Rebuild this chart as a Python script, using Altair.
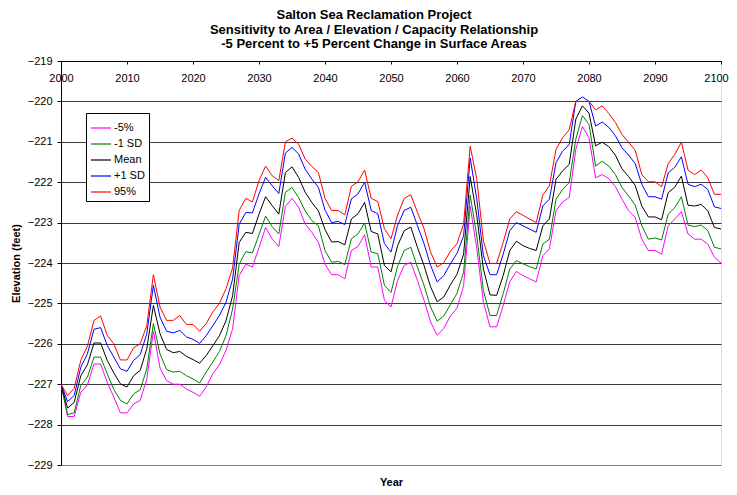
import altair as alt
import pandas as pd

years = list(range(2000, 2101))

minus5 = [-227.0, -227.8, -227.8, -227.2, -227.02, -226.5, -226.5, -226.95, -227.32, -227.71,
          -227.71, -227.49, -227.4, -226.87, -225.69, -226.6, -226.91, -227.0, -227.0, -227.12,
          -227.2, -227.3, -227.07, -226.74, -226.52, -226.16, -225.63, -224.31, -224.03, -224.1,
          -223.62, -223.12, -223.41, -223.59, -222.6, -222.4, -222.62, -223.04, -223.24, -223.49,
          -224.03, -224.29, -224.29, -224.39, -223.69, -223.59, -223.3, -224.1, -224.1, -224.92,
          -225.09, -224.43, -224.06, -223.98, -224.43, -224.92, -225.46, -225.79, -225.62, -225.31,
          -225.12, -224.56, -222.59, -223.65, -224.97, -225.58, -225.58, -225.05, -224.46, -224.21,
          -224.31, -224.39, -224.47, -223.82, -223.65, -222.71, -222.49, -222.38, -221.19, -220.62,
          -220.9, -221.89, -221.81, -221.91, -222.11, -222.42, -222.71, -222.87, -223.41, -223.69,
          -223.69, -223.78, -223.08, -222.91, -222.73, -223.28, -223.41, -223.41, -223.53, -223.86,
          -224.0]

minus1sd = [-227.0, -227.75, -227.71, -227.03, -226.83, -226.33, -226.33, -226.74, -227.13, -227.4,
            -227.49, -227.24, -227.14, -226.62, -225.5, -226.25, -226.64, -226.7, -226.68, -226.79,
            -226.87, -226.97, -226.7, -226.45, -226.19, -225.8, -225.14, -224.03, -223.72, -223.75,
            -223.3, -222.84, -223.1, -223.28, -222.25, -222.13, -222.38, -222.71, -222.95, -223.08,
            -223.69, -223.98, -223.96, -224.04, -223.4, -223.28, -223.01, -223.73, -223.77, -224.55,
            -224.73, -224.08, -223.69, -223.61, -224.1, -224.55, -225.09, -225.44, -225.31, -225.03,
            -224.75, -224.23, -222.32, -223.33, -224.68, -225.3, -225.3, -224.76, -224.15, -223.94,
            -224.02, -224.09, -224.15, -223.53, -223.41, -222.42, -222.18, -222.01, -220.94, -220.35,
            -220.57, -221.6, -221.48, -221.6, -221.81, -222.13, -222.34, -222.57, -223.08, -223.41,
            -223.38, -223.43, -222.79, -222.63, -222.36, -223.06, -223.1, -223.06, -223.2, -223.61,
            -223.65]

mean = [-227.0, -227.59, -227.45, -226.79, -226.52, -225.98, -225.98, -226.41, -226.72, -226.99,
        -227.07, -226.79, -226.66, -226.12, -225.05, -225.75, -226.14, -226.22, -226.19, -226.31,
        -226.39, -226.48, -226.29, -226.05, -225.8, -225.43, -224.81, -223.49, -223.24, -223.27,
        -222.79, -222.36, -222.58, -222.79, -221.76, -221.62, -221.88, -222.25, -222.5, -222.71,
        -223.17, -223.48, -223.47, -223.55, -222.91, -222.78, -222.5, -223.22, -223.28, -224.06,
        -224.22, -223.57, -223.2, -223.11, -223.61, -224.06, -224.59, -224.96, -224.84, -224.54,
        -224.28, -223.78, -221.86, -222.83, -224.15, -224.79, -224.8, -224.31, -223.69, -223.46,
        -223.57, -223.64, -223.69, -223.08, -222.91, -221.93, -221.72, -221.56, -220.44, -220.11,
        -220.29, -221.1, -221.01, -221.12, -221.33, -221.67, -221.86, -222.08, -222.59, -222.86,
        -222.86, -222.93, -222.26, -222.12, -221.85, -222.57, -222.59, -222.55, -222.71, -223.12,
        -223.16]

plus1sd = [-227.0, -227.43, -227.28, -226.58, -226.25, -225.64, -225.6, -226.04, -226.33, -226.62,
           -226.68, -226.41, -226.27, -225.75, -224.55, -225.34, -225.69, -225.73, -225.67, -225.83,
           -225.89, -225.99, -225.8, -225.55, -225.3, -224.97, -224.4, -223.04, -222.75, -222.76,
           -222.29, -221.88, -222.09, -222.28, -221.28, -221.14, -221.3, -221.68, -221.92, -222.13,
           -222.69, -223.0, -222.97, -223.05, -222.41, -222.29, -222.0, -222.7, -222.78, -223.52,
           -223.73, -223.07, -222.7, -222.62, -223.07, -223.52, -224.06, -224.47, -224.31, -224.02,
           -223.76, -223.33, -221.4, -222.42, -223.82, -224.29, -224.29, -223.78, -223.2, -223.0,
           -223.08, -223.16, -223.24, -222.59, -222.42, -221.52, -221.23, -221.07, -220.0, -219.89,
           -220.0, -220.61, -220.51, -220.64, -220.85, -221.15, -221.33, -221.54, -222.05, -222.36,
           -222.36, -222.42, -221.77, -221.63, -221.37, -222.05, -222.11, -222.05, -222.18, -222.61,
           -222.65]

p95 = [-227.0, -227.28, -227.1, -226.41, -226.06, -225.42, -225.31, -225.79, -226.0, -226.4,
       -226.4, -226.1, -226.0, -225.55, -224.29, -225.09, -225.42, -225.42, -225.3, -225.52,
       -225.52, -225.69, -225.5, -225.21, -225.0, -224.64, -224.12, -222.7, -222.4, -222.49,
       -221.96, -221.6, -221.84, -221.96, -221.0, -220.91, -221.06, -221.43, -221.61, -221.76,
       -222.4, -222.7, -222.7, -222.81, -222.1, -221.99, -221.7, -222.4, -222.48, -223.15,
       -223.4, -222.81, -222.4, -222.31, -222.74, -223.15, -223.73, -224.1, -223.99, -223.71,
       -223.52, -223.04, -221.11, -221.93, -223.45, -224.01, -224.01, -223.49, -222.91, -222.73,
       -222.82, -222.91, -223.0, -222.32, -222.09, -221.19, -220.9, -220.7, -220.0, -220.0,
       -220.0, -220.21, -220.11, -220.3, -220.52, -220.82, -221.01, -221.21, -221.81, -221.99,
       -221.99, -222.11, -221.54, -221.31, -221.01, -221.7, -221.81, -221.7, -221.89, -222.3,
       -222.3]

series_names = ["-5%", "-1 SD", "Mean", "+1 SD", "95%"]
series_colors = ["#FF00FF", "#008000", "#000000", "#0000FF", "#FF0000"]
x_ticks = list(range(2000, 2101, 10))
y_ticks = list(range(-229, -218))
title_lines = ["Salton Sea Reclamation Project",
               "Sensitivity to Area / Elevation / Capacity Relationship",
               "-5 Percent to +5 Percent Change in Surface Areas"]

frames = []
for name, vals in zip(series_names, [minus5, minus1sd, mean, plus1sd, p95]):
    frames.append(pd.DataFrame({"year": years, "value": vals, "series": name}))
df = pd.concat(frames, ignore_index=True)

FONT = "Liberation Sans"
W, H = 660, 404

chart = alt.Chart(df).mark_line(strokeWidth=1, clip=True).encode(
    x=alt.X("year:Q",
            scale=alt.Scale(domain=[2000, 2100], nice=False, zero=False),
            axis=alt.Axis(orient="bottom", offset=-H, values=x_ticks, format="d",
                          tickSize=3, tickColor="black", domainColor="black",
                          labelPadding=8, labelFontSize=11, labelFont=FONT, labelColor="black",
                          labelFlush=False, labelOverlap=False, grid=False,
                          labelOffset=alt.condition("datum.value == 2100",
                                                    alt.value(-5), alt.value(0)),
                          title="Year", titleY=H + 17, titleBaseline="middle",
                          titleFontSize=11, titleFont=FONT, titleFontWeight="bold",
                          titleColor="black")),
    y=alt.Y("value:Q",
            scale=alt.Scale(domain=[-229, -219], nice=False, zero=False),
            axis=alt.Axis(values=y_ticks, format="d", tickSize=4, tickColor="black",
                          domainColor="black", labelPadding=5, labelFontSize=11,
                          labelFont=FONT, labelColor="black",
                          grid=True,
                          gridColor=alt.condition("datum.value == -229",
                                                  alt.value("#808080"), alt.value("#3a3a3a")),
                          gridWidth=1,
                          title="Elevation (feet)", titleX=-45, titleY=H / 2,
                          titleBaseline="middle", titleAngle=270,
                          titleFontSize=11, titleFont=FONT, titleFontWeight="bold",
                          titleColor="black")),
    color=alt.Color("series:N",
                    scale=alt.Scale(domain=series_names, range=series_colors),
                    sort=series_names,
                    legend=alt.Legend(title=None, orient="none", legendX=25, legendY=52,
                                      symbolType="stroke", symbolSize=400, symbolStrokeWidth=1.2,
                                      labelFontSize=11, labelFont=FONT, labelColor="black",
                                      labelOffset=2, rowPadding=0, padding=4,
                                      strokeColor="black", fillColor="white",
                                      cornerRadius=0)),
).properties(
    width=W, height=H,
    title=alt.TitleParams(text=title_lines, fontSize=13, font=FONT, fontWeight="bold",
                          color="black", anchor="middle", dx=-17, offset=4, lineHeight=14.5),
    autosize=alt.AutoSizeParams(type="none"),
    padding={"left": 53, "top": 53, "right": 8, "bottom": 22},
).configure_view(
    stroke="#808080", strokeWidth=1
).configure(background="white")

chart.save("out.html", embed_options={"renderer": "svg", "actions": False})
